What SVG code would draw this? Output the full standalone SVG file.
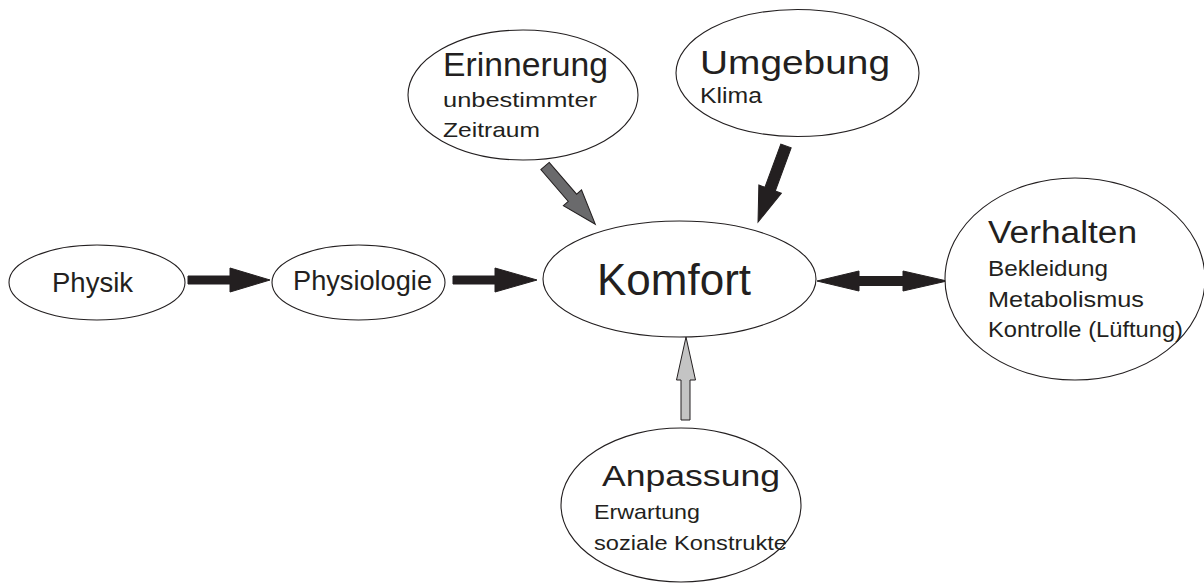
<svg xmlns="http://www.w3.org/2000/svg" width="1204" height="585" viewBox="0 0 1204 585">
<style>
.node ellipse{fill:#fff;stroke:#231f20;stroke-width:1.1}
text{font-family:"Liberation Sans",Arial,sans-serif;fill:#231f20}
.arr{stroke:#231f20;stroke-width:1;stroke-linejoin:miter}
.blk{fill:#231f20}
.gry{fill:#6a6a6c}
.lgt{fill:#c4c4c4}
</style>
<rect width="1204" height="585" fill="#fff"/>
<g id="connectors">
<polygon class="arr blk" points="188,276 230,276 230,268 270,280 230,292 230,284 188,284"/>
<polygon class="arr blk" points="453,276 495,276 495,268 537,280 495,292 495,284 453,284"/>
<polygon class="arr blk" points="817,281 859,271 859,276.5 903,276.5 903,271 947,281 903,291 903,285.5 859,285.5 859,291"/>
<polygon class="arr gry" transform="translate(545,166) rotate(49.2)" points="0,-5.5 42,-5.5 42,-12 77,0 42,12 42,5.5 0,5.5"/>
<polygon class="arr blk" transform="translate(786,146) rotate(110.2)" points="0,-5.5 46,-5.5 46,-12 81,0 46,12 46,5.5 0,5.5"/>
<polygon class="arr lgt" points="681,420 690,420 690,380 695.5,380 686,337 676.5,380 681,380"/>
</g>
<g id="physik" class="node">
<ellipse cx="97" cy="282.5" rx="88" ry="37.5"/>
<text x="52" y="292" font-size="27" textLength="81" lengthAdjust="spacingAndGlyphs">Physik</text>
</g>
<g id="physiologie" class="node">
<ellipse cx="358.5" cy="282.5" rx="86.5" ry="37.5"/>
<text x="293" y="290" font-size="27" textLength="139" lengthAdjust="spacingAndGlyphs">Physiologie</text>
</g>
<g id="komfort" class="node">
<ellipse cx="679.5" cy="279" rx="136.5" ry="58"/>
<text x="597" y="295" font-size="44" textLength="154" lengthAdjust="spacingAndGlyphs">Komfort</text>
</g>
<g id="erinnerung" class="node">
<ellipse cx="523" cy="95" rx="115" ry="65"/>
<text x="443" y="76" font-size="33" textLength="165" lengthAdjust="spacingAndGlyphs">Erinnerung</text>
<text x="443" y="107" font-size="21" textLength="154" lengthAdjust="spacingAndGlyphs">unbestimmter</text>
<text x="443" y="137" font-size="21" textLength="97" lengthAdjust="spacingAndGlyphs">Zeitraum</text>
</g>
<g id="umgebung" class="node">
<ellipse cx="797.5" cy="73" rx="121.5" ry="63.5"/>
<text x="700" y="74" font-size="33" textLength="190" lengthAdjust="spacingAndGlyphs">Umgebung</text>
<text x="700" y="103" font-size="22" textLength="62" lengthAdjust="spacingAndGlyphs">Klima</text>
</g>
<g id="verhalten" class="node">
<ellipse cx="1075" cy="279" rx="130" ry="101"/>
<text x="988" y="243" font-size="31" textLength="149" lengthAdjust="spacingAndGlyphs">Verhalten</text>
<text x="988" y="276" font-size="22" textLength="120" lengthAdjust="spacingAndGlyphs">Bekleidung</text>
<text x="988" y="307" font-size="22" textLength="156" lengthAdjust="spacingAndGlyphs">Metabolismus</text>
<text x="988" y="337" font-size="22" textLength="195" lengthAdjust="spacingAndGlyphs">Kontrolle (Lüftung)</text>
</g>
<g id="anpassung" class="node">
<ellipse cx="681" cy="505" rx="120" ry="77"/>
<text x="602" y="486" font-size="29" textLength="178" lengthAdjust="spacingAndGlyphs">Anpassung</text>
<text x="594" y="519" font-size="21" textLength="106" lengthAdjust="spacingAndGlyphs">Erwartung</text>
<text x="594" y="550" font-size="21" textLength="193" lengthAdjust="spacingAndGlyphs">soziale Konstrukte</text>
</g>
</svg>
